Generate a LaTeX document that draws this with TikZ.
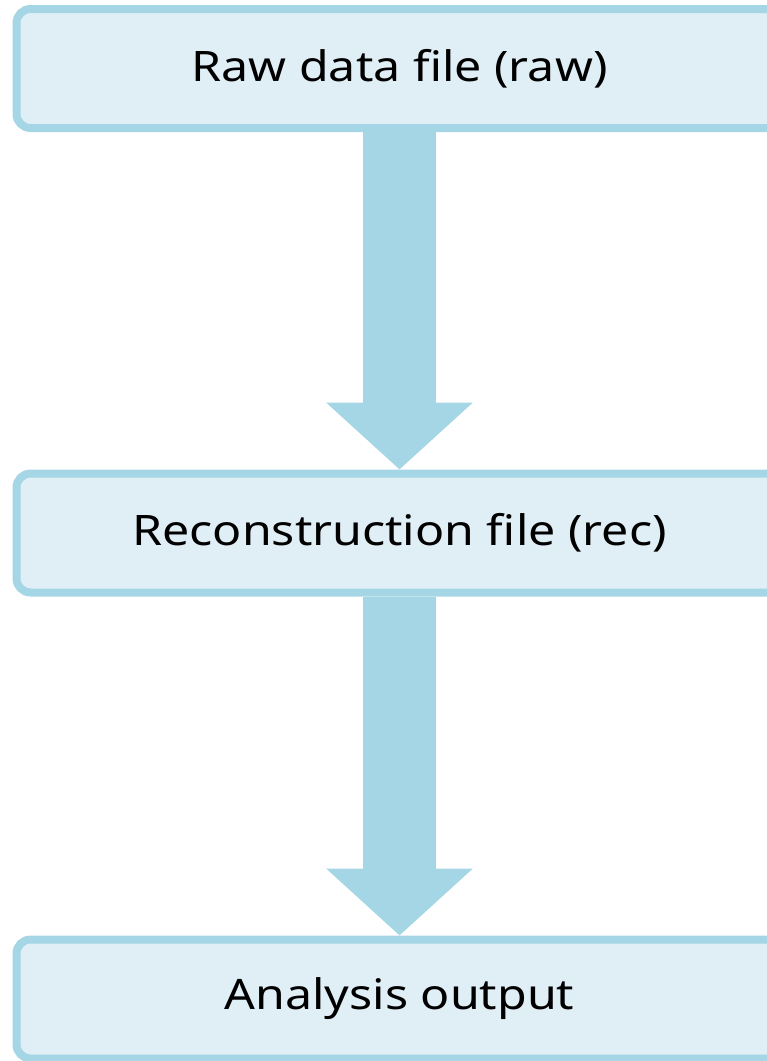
\documentclass[tikz,border=0pt]{standalone}
\usepackage{fontspec}
\setmainfont{Noto Sans}[FakeStretch=1.15]
\usetikzlibrary{arrows.meta}
\definecolor{boxfill}{HTML}{E0EEF6}
\definecolor{boxline}{HTML}{A4D6E5}
\begin{document}
\begin{tikzpicture}[x=1pt,y=-1pt,
  stagebox/.style={draw=boxline, fill=boxfill, line width=8pt, rounded corners=14pt,
    minimum width=766pt, minimum height=119pt, inner sep=0pt,
    font=\fontsize{42}{50}\selectfont, text=black},
  flowarrow/.style={draw=boxline, line width=73pt,
    -{Triangle[width=143pt,length=67pt,fill=boxline]}}]
\useasboundingbox (0,0) rectangle (767,1061);
\node[stagebox] (raw) at (399.5,68.5) {Raw data file (raw)};
\node[stagebox] (rec) at (399.5,533) {Reconstruction file (rec)};
\node[stagebox] (ana) at (399.5,999) {Analysis output};
\draw[flowarrow] (raw.south) -- (rec.north);
\draw[flowarrow] (rec.south) -- (ana.north);
\end{tikzpicture}
\end{document}
